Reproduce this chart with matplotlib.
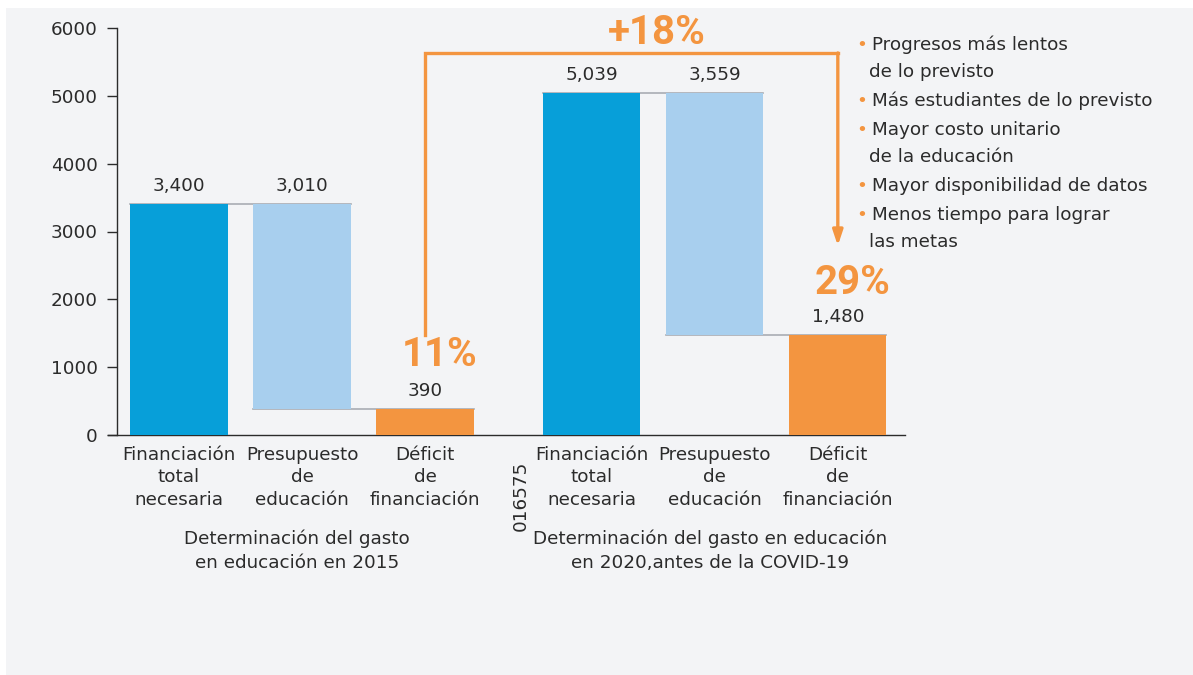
import matplotlib
matplotlib.use("Agg")
import matplotlib.pyplot as plt
from matplotlib.patches import Rectangle

plt.rcParams['font.family'] = ['DejaVu Sans']

# ---- data ----
categories = ["Financiación\ntotal\nnecesaria", "Presupuesto\nde\neducación", "Déficit\nde\nfinanciación",
              "Financiación\ntotal\nnecesaria", "Presupuesto\nde\neducación", "Déficit\nde\nfinanciación"]
total_needed = [3400, 5039]
budget = [3010, 3559]
deficit = [390, 1480]
value_labels = ["3,400", "3,010", "390", "5,039", "3,559", "1,480"]
pct_labels = ["11%", "29%"]
change_label = "+18%"
group_labels = ["Determinación del gasto\nen educación en 2015",
                "Determinación del gasto en educación\nen 2020,antes de la COVID-19"]
reasons = ["Progresos más lentos\nde lo previsto", "Más estudiantes de lo previsto",
           "Mayor costo unitario\nde la educación", "Mayor disponibilidad de datos",
           "Menos tiempo para lograr\nlas metas"]
yticks = [0, 1000, 2000, 3000, 4000, 5000, 6000]
stray_text = "016575"

# ---- style ----
BLUE = "#079fd9"
LBLUE = "#a8cfee"
ORANGE = "#f39540"
TXT = "#2b2b2b"
GRID = "#a9adb3"
FS = 13.2
BOLDFONT = ['Roboto', 'DejaVu Sans']

W, H = 1193, 675
fig = plt.figure(figsize=(W / 100, H / 100), dpi=100)
fig.patch.set_facecolor("white")
fig.add_artist(Rectangle((6 / W, 0), 1 - 6 / W, 1 - 8 / H, transform=fig.transFigure,
                         facecolor="#f3f4f6", edgecolor="none", zorder=-10))

ax = fig.add_axes([108 / W, 1 - 435 / H, (905 - 108) / W, (435 - 28) / H])
ax.set_facecolor("none")
for s in ["top", "right"]:
    ax.spines[s].set_visible(False)
ax.spines["left"].set_position(("data", -0.504))

gap = 1.354
pos = [0, 1, 2, 2 + gap, 3 + gap, 4 + gap]
bw = 0.79

for g in range(2):
    i0 = 3 * g
    top = total_needed[g]
    d = deficit[g]
    ax.bar(pos[i0], top, bw, color=BLUE, zorder=3)
    ax.bar(pos[i0 + 1], top - d, bw, bottom=d, color=LBLUE, zorder=3)
    ax.bar(pos[i0 + 2], d, bw, color=ORANGE, zorder=3)
    # connectors
    ax.plot([pos[i0] - bw / 2, pos[i0 + 1] + bw / 2], [top, top], color=GRID, lw=1.2, zorder=2)
    ax.plot([pos[i0 + 1] - bw / 2, pos[i0 + 2] + bw / 2], [d, d], color=GRID, lw=1.2, zorder=2)
    tops = [top, top, d]
    for k in range(3):
        ax.text(pos[i0 + k], tops[k] + 265, value_labels[i0 + k], ha="center", va="center",
                fontsize=FS, color=TXT)

ax.set_xlim(-0.577, 5.9)
ax.set_ylim(0, 6000)
ax.set_yticks(yticks)
ax.set_yticklabels([str(v) for v in yticks])
ax.set_xticks(pos)
ax.set_xticklabels(categories, linespacing=1.3)
ax.tick_params(axis="x", length=0, pad=8, labelsize=FS, labelcolor=TXT)
ax.tick_params(axis="y", length=7, width=1, color=TXT, pad=7, labelsize=FS, labelcolor=TXT)
ax.spines["left"].set_color(TXT)
ax.spines["bottom"].set_color(TXT)
ax.spines["left"].set_linewidth(1)
ax.spines["bottom"].set_linewidth(1)

# group labels
ax.text(0.96, -0.233, group_labels[0], transform=ax.get_xaxis_transform(), ha="center",
        va="top", fontsize=FS, color=TXT, linespacing=1.42)
ax.text(pos[4] - 0.04, -0.233, group_labels[1], transform=ax.get_xaxis_transform(), ha="center",
        va="top", fontsize=FS, color=TXT, linespacing=1.42)

# stray rotated text
fig.text(521 / W, 1 - 496 / H, stray_text, rotation=90,
         ha="center", va="center", fontsize=FS, color=TXT)

# percentages
ax.text(pos[2] + 0.12, 1180, pct_labels[0], ha="center", va="center", fontsize=29,
        fontweight="bold", color=ORANGE, family=BOLDFONT)
ax.text(pos[5] + 0.12, 2240, pct_labels[1], ha="center", va="center", fontsize=29,
        fontweight="bold", color=ORANGE, family=BOLDFONT)

# bracket arrow
y_top = 5632
ax.plot([pos[2], pos[2], pos[5]], [1474, y_top, y_top], color=ORANGE, lw=2.4,
        solid_joinstyle="miter", clip_on=False, zorder=4)
ax.annotate("", xy=(pos[5], 2790), xytext=(pos[5], y_top),
            arrowprops=dict(arrowstyle="-|>,head_length=0.9,head_width=0.3", color=ORANGE,
                            lw=2.4, shrinkA=0, shrinkB=0), annotation_clip=False, zorder=4)
ax.text(3.88, 5930, change_label, ha="center", va="center", fontsize=29,
        fontweight="bold", color=ORANGE, clip_on=False, family=BOLDFONT)

# reasons list
y = 45
for r in reasons:
    lines = r.split("\n")
    fig.text(856 / W, 1 - y / H, "•", color=ORANGE, fontsize=FS, ha="left", va="center")
    fig.text(872 / W, 1 - y / H, lines[0], color=TXT, fontsize=FS, ha="left", va="center")
    y += 27
    for extra in lines[1:]:
        fig.text(869 / W, 1 - y / H, extra, color=TXT, fontsize=FS, ha="left", va="center")
        y += 27
    y += 2

fig.savefig("out.png", dpi=100, facecolor=fig.get_facecolor())
